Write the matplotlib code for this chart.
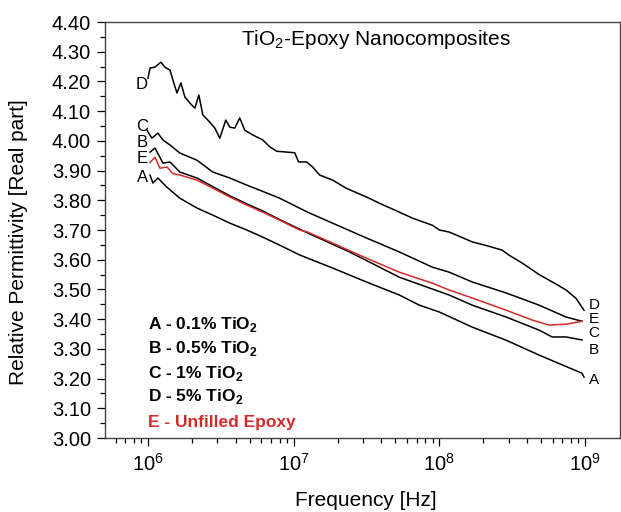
import numpy as np
import matplotlib
matplotlib.use("Agg")
import matplotlib.pyplot as plt
from matplotlib.ticker import MultipleLocator, FormatStrFormatter, LogLocator

plt.rcParams['font.family'] = ['Liberation Sans', 'DejaVu Sans']
plt.rcParams['mathtext.fontset'] = 'custom'
plt.rcParams['mathtext.rm'] = 'Liberation Sans'
plt.rcParams['mathtext.bf'] = 'Liberation Sans:bold'

# log10(frequency / Hz) and real part of relative permittivity
logf_A = [6.014, 6.034, 6.068, 6.130, 6.219, 6.336, 6.445, 6.562, 6.678, 6.788, 6.904,
          7.041, 7.267, 7.500, 7.726, 7.863, 8.000, 8.226, 8.459, 8.685, 8.979, 8.993]
eps_A = [3.885, 3.858, 3.875, 3.844, 3.807, 3.774, 3.750, 3.723, 3.700, 3.676, 3.649,
         3.616, 3.572, 3.525, 3.481, 3.447, 3.424, 3.373, 3.329, 3.279, 3.218, 3.205]

logf_B = [6.014, 6.048, 6.103, 6.151, 6.219, 6.336, 6.445, 6.562, 6.678, 6.788, 6.904,
          7.096, 7.384, 7.726, 8.068, 8.226, 8.459, 8.685, 8.774, 8.870, 8.979]
eps_B = [3.962, 3.976, 3.925, 3.929, 3.895, 3.875, 3.846, 3.815, 3.788, 3.764, 3.735,
         3.690, 3.626, 3.541, 3.481, 3.447, 3.407, 3.363, 3.340, 3.340, 3.330]

logf_C = [5.993, 6.027, 6.068, 6.103, 6.151, 6.219, 6.336, 6.445, 6.562, 6.678, 6.767,
          6.904, 7.096, 7.267, 7.500, 7.726, 7.952, 8.068, 8.226, 8.459, 8.685, 8.870, 8.979]
eps_C = [4.036, 4.009, 4.026, 4.003, 3.986, 3.959, 3.935, 3.895, 3.875, 3.851, 3.834,
         3.807, 3.760, 3.723, 3.673, 3.626, 3.575, 3.558, 3.525, 3.488, 3.447, 3.407, 3.393]

logf_D = [6.000, 6.014, 6.048, 6.089, 6.116, 6.151, 6.171, 6.199, 6.226, 6.253, 6.288,
          6.322, 6.349, 6.377, 6.411, 6.459, 6.493, 6.534, 6.562, 6.596, 6.630, 6.664,
          6.719, 6.788, 6.836, 6.884, 6.959, 7.007, 7.034, 7.089, 7.130, 7.178, 7.267,
          7.363, 7.500, 7.589, 7.726, 7.815, 7.952, 8.000, 8.068, 8.226, 8.342, 8.432,
          8.479, 8.568, 8.685, 8.801, 8.870, 8.938, 8.993]
eps_D = [4.211, 4.245, 4.248, 4.265, 4.248, 4.238, 4.205, 4.161, 4.195, 4.148, 4.127,
         4.110, 4.154, 4.087, 4.070, 4.043, 4.009, 4.070, 4.046, 4.043, 4.077, 4.036,
         4.020, 4.003, 3.980, 3.965, 3.962, 3.960, 3.929, 3.929, 3.912, 3.885, 3.868,
         3.840, 3.811, 3.790, 3.760, 3.740, 3.716, 3.700, 3.693, 3.660, 3.645, 3.632,
         3.615, 3.589, 3.550, 3.518, 3.498, 3.470, 3.430]

logf_E = [6.014, 6.048, 6.082, 6.130, 6.171, 6.219, 6.336, 6.445, 6.562, 6.678, 6.788,
          6.904, 7.041, 7.096, 7.267, 7.500, 7.726, 7.952, 8.068, 8.226, 8.459, 8.637,
          8.753, 8.870, 8.979]
eps_E = [3.927, 3.945, 3.908, 3.912, 3.890, 3.885, 3.868, 3.841, 3.811, 3.784, 3.760,
         3.733, 3.700, 3.693, 3.656, 3.605, 3.558, 3.521, 3.498, 3.471, 3.430, 3.397,
         3.380, 3.383, 3.393]

legend_lines = ["A - 0.1% TiO$_\\mathbf{2}$", "B - 0.5% TiO$_\\mathbf{2}$",
                "C - 1% TiO$_\\mathbf{2}$", "D - 5% TiO$_\\mathbf{2}$", "E - Unfilled Epoxy"]

red = '#d42a2a'

fig = plt.figure(figsize=(6.21, 5.12), dpi=100)
ax = fig.add_axes([105/621, 1 - 438/512, 515/621, 416/512])

for lf, ep, col in [(logf_A, eps_A, 'k'), (logf_B, eps_B, 'k'), (logf_C, eps_C, 'k'),
                    (logf_D, eps_D, 'k'), (logf_E, eps_E, red)]:
    ax.plot(10 ** np.array(lf), ep, color=col, lw=1.1)

ax.set_xscale('log')
ax.set_xlim(10 ** 5.705, 10 ** 9.24)
ax.set_ylim(3.0, 4.4)
ax.yaxis.set_major_locator(MultipleLocator(0.1))
ax.yaxis.set_minor_locator(MultipleLocator(0.05))
ax.yaxis.set_major_formatter(FormatStrFormatter('%.2f'))
ax.xaxis.set_major_locator(LogLocator(base=10, numticks=10))
ax.xaxis.set_minor_locator(LogLocator(base=10, subs=np.arange(2, 10), numticks=20))

ax.tick_params(which='major', direction='out', length=6, width=0.9, labelsize=14.5, pad=4)
ax.tick_params(which='minor', direction='out', length=3.5, width=0.9)
ax.tick_params(axis='x', which='major', pad=5)
for s in ax.spines.values():
    s.set_linewidth(1.0)
    s.set_color('#444444')

ax.set_xlabel('Frequency [Hz]', fontsize=15)
ax.set_ylabel('Relative Permittivity [Real part]', fontsize=15)
ax.xaxis.set_label_coords(0.507, -0.128)
ax.yaxis.set_label_coords(-0.15, 0.47)

ax.text(0.526, 0.957, 'TiO$_2$-Epoxy Nanocomposites', transform=ax.transAxes,
        ha='center', va='center', fontsize=15)

# curve letters at both ends
for lab, lf, ep in [('D', 5.959, 4.188), ('C', 5.959, 4.048), ('B', 5.962, 3.995),
                    ('E', 5.962, 3.942), ('A', 5.962, 3.878)]:
    ax.text(10 ** lf, ep, lab, ha='center', va='center', fontsize=12)
for lab, ep in [('D', 3.449), ('E', 3.402), ('C', 3.352), ('B', 3.296), ('A', 3.195)]:
    ax.text(10 ** 9.062, ep, lab, ha='center', va='center', fontsize=11)

for i, (txt, yy) in enumerate(zip(legend_lines, [0.272, 0.216, 0.156, 0.099, 0.038])):
    ax.text(0.0835, yy, txt, transform=ax.transAxes, ha='left', va='center',
            fontsize=12.5, fontweight='bold', color=red if i == 4 else 'k')

fig.savefig('out.png', dpi=100)
